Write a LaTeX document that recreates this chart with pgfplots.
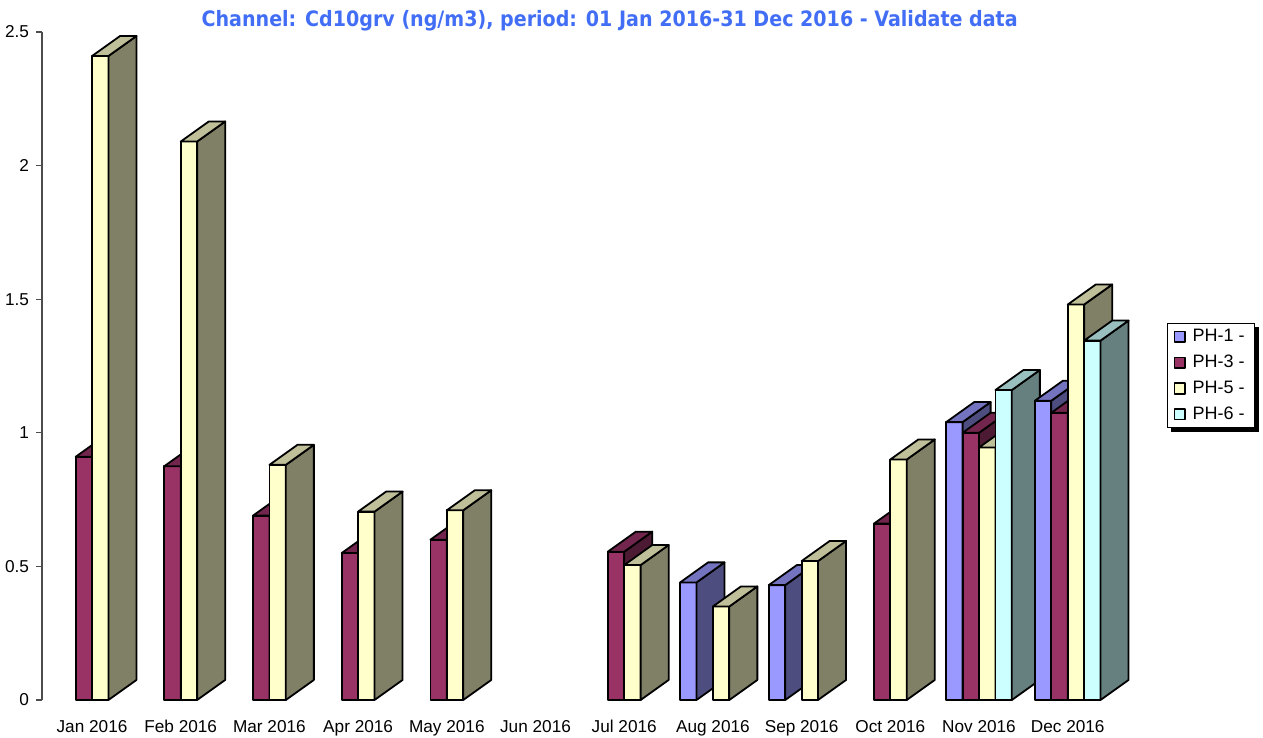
\documentclass[border=0pt]{standalone}
\usepackage{fontspec}
\setmainfont{Liberation Sans}
\newfontfamily\titlefont{DejaVu Sans Condensed}
\usepackage{pgfplots}
\usepackage{pgfplotstable}
\pgfplotsset{compat=1.18}
\usetikzlibrary{backgrounds}

\definecolor{ph1front}{RGB}{153,153,255}
\definecolor{ph1side}{RGB}{77,77,128}
\definecolor{ph1top}{RGB}{115,115,191}
\definecolor{ph3front}{RGB}{153,51,102}
\definecolor{ph3side}{RGB}{77,26,51}
\definecolor{ph3top}{RGB}{115,38,77}
\definecolor{ph5front}{RGB}{255,255,204}
\definecolor{ph5side}{RGB}{128,128,102}
\definecolor{ph5top}{RGB}{191,191,153}
\definecolor{ph6front}{RGB}{204,255,255}
\definecolor{ph6side}{RGB}{102,128,128}
\definecolor{ph6top}{RGB}{153,191,191}
\definecolor{titleblue}{RGB}{66,110,245}

% month index, one column per station (nan = no data)
\pgfplotstableread{
x  ph1  ph3   ph5   ph6
1  nan  0.91  2.41  nan
2  nan  0.875 2.09  nan
3  nan  0.69  0.88  nan
4  nan  0.55  0.705 nan
5  nan  0.60  0.71  nan
6  nan  nan   nan   nan
7  nan  0.555 0.505 nan
8  0.44 nan   0.35  nan
9  0.43 nan   0.52  nan
10 nan  0.66  0.90  nan
11 1.04 1.00  0.945 1.16
12 1.12 1.075 1.48  1.345
}\cddata

% bar width, depth (x) and depth (y) in axis units
\def\bw{0.185}
\def\dx{0.316}
\def\dy{0.075}
\def\nanstr{nan}

% one 3D bar: #1 column, #2 slot shift, #3 front, #4 side, #5 top (row \i)
\newcommand{\onebar}[5]{%
  \pgfplotstablegetelem{\i}{#1}\of{\cddata}\edef\by{\pgfplotsretval}%
  \ifx\by\nanstr\else
    \pgfmathsetmacro{\xl}{\bx+#2-\bw/2}%
    \pgfmathsetmacro{\xr}{\bx+#2+\bw/2}%
    \pgfmathsetmacro{\xb}{\xr+\dx}%
    \pgfmathsetmacro{\xbl}{\xl+\dx}%
    \pgfmathsetmacro{\yt}{\by+\dy}%
    \edef\tmp{%
      \noexpand\addplot[forget plot, fill=#3] coordinates {(\xl,0) (\xr,0) (\xr,\by) (\xl,\by)} -- cycle;
      \noexpand\addplot[forget plot, fill=#4] coordinates {(\xr,0) (\xb,\dy) (\xb,\yt) (\xr,\by)} -- cycle;
      \noexpand\addplot[forget plot, fill=#5] coordinates {(\xl,\by) (\xr,\by) (\xb,\yt) (\xbl,\yt)} -- cycle;
    }\tmp
  \fi
}

\begin{document}
\begin{tikzpicture}
\begin{axis}[
  scale only axis,
  width=549pt, height=334pt,
  xmin=0.436, xmax=12.815,
  ymin=0, ymax=2.5,
  clip=false,
  axis lines*=left,
  x axis line style={draw=none},
  y axis line style={draw=black!70, line width=0.6pt},
  ytick={0,0.5,1,1.5,2,2.5},
  yticklabels={0,0.5,1,1.5,2,2.5},
  ytick style={draw=black!70, line width=0.6pt},
  tick align=outside,
  major tick length=3pt,
  xtick={1,...,12},
  xticklabels={Jan 2016,Feb 2016,Mar 2016,Apr 2016,May 2016,Jun 2016,Jul 2016,Aug 2016,Sep 2016,Oct 2016,Nov 2016,Dec 2016},
  xtick style={draw=none},
  xticklabel style={yshift=-3.5pt},
  tick label style={font=\fontsize{8.6}{10}\selectfont},
  title={\titlefont\bfseries Channel: Cd10grv (ng/m3), period: 01 Jan 2016-31 Dec 2016 - Validate data},
  every axis title shift=0pt,
  title style={at={(axis description cs:0.517,1.0075)}, anchor=base, inner sep=0pt, text=titleblue, font=\fontsize{10.6}{12}\selectfont},
  every axis plot/.append style={draw=black, line width=0.9pt, line join=round},
  legend image code/.code={\draw[#1, draw=black, line width=0.7pt] (0pt,-2.7pt) rectangle (5.4pt,2.7pt);},
  legend style={
    name=leg,
    at={(axis description cs:1.0246,0.5644)}, anchor=north west,
    draw=black, fill=white, line width=0.5pt,
    font=\fontsize{9}{10}\selectfont,
    row sep=1.2pt, inner xsep=3pt, inner ysep=0.8pt, column sep=1.5pt,
  },
  legend cell align=left,
]
\pgfplotstablegetrowsof{\cddata}
\pgfmathtruncatemacro{\nrows}{\pgfplotsretval-1}
\pgfplotsforeachungrouped \i in {0,...,\nrows}{%
  \pgfplotstablegetelem{\i}{x}\of{\cddata}\edef\bx{\pgfplotsretval}%
  \onebar{ph1}{-1.5*\bw}{ph1front}{ph1side}{ph1top}%
  \onebar{ph3}{-0.5*\bw}{ph3front}{ph3side}{ph3top}%
  \onebar{ph5}{0.5*\bw}{ph5front}{ph5side}{ph5top}%
  \onebar{ph6}{1.5*\bw}{ph6front}{ph6side}{ph6top}%
}
\addlegendimage{fill=ph1front}\addlegendentry{PH-1 -}
\addlegendimage{fill=ph3front}\addlegendentry{PH-3 -}
\addlegendimage{fill=ph5front}\addlegendentry{PH-5 -}
\addlegendimage{fill=ph6front}\addlegendentry{PH-6 -}
\end{axis}
\begin{scope}[on background layer]
  \fill[black] ([shift={(2pt,-2pt)}]leg.south west) rectangle ([shift={(2pt,-2pt)}]leg.north east);
\end{scope}
\pgfresetboundingbox
\path[use as bounding box] (-21pt,-19pt) rectangle (610.5pt,350pt);
\end{tikzpicture}
\end{document}
